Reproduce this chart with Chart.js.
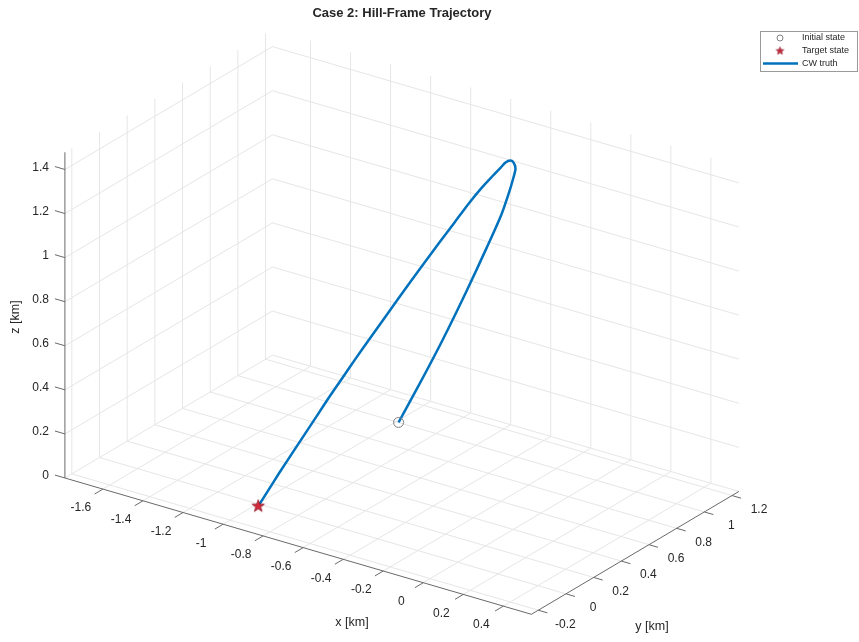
<!DOCTYPE html>
<html>
<head>
<meta charset="utf-8">
<title>Case 2: Hill-Frame Trajectory</title>
<script src="https://cdn.jsdelivr.net/npm/chart.js@4/dist/chart.umd.min.js"></script>
<style>
  html, body { margin: 0; padding: 0; background: #fff; }
  canvas { display: block; }
</style>
</head>
<body>
<canvas id="traj" width="859" height="642"></canvas>
<script>
// axis limits and ticks, km
const xLim = [-1.79, 0.54];
const yLim = [-0.25, 1.25];
const zLim = [0, 1.478];
const xTicks = [-1.6, -1.4, -1.2, -1, -0.8, -0.6, -0.4, -0.2, 0, 0.2, 0.4];
const yTicks = [-0.2, 0, 0.2, 0.4, 0.6, 0.8, 1, 1.2];
const zTicks = [0, 0.2, 0.4, 0.6, 0.8, 1, 1.2, 1.4];

// CW truth trajectory in the Hill frame, km
const trajX = [-0.988, -0.826, -0.686, -0.533, -0.414, -0.349, -0.317, -0.306, -0.299, -0.300, -0.300,
               -0.306, -0.305, -0.311, -0.341, -0.361, -0.387, -0.425, -0.460, -0.510, -0.549, -0.585,
               -0.634, -0.672, -0.719, -0.769, -0.814, -0.862, -0.907, -0.952, -0.977, -0.984];
const trajY = [1.001, 0.920, 0.884, 0.835, 0.810, 0.819, 0.831, 0.844, 0.849, 0.839, 0.815,
               0.787, 0.749, 0.703, 0.662, 0.604, 0.536, 0.484, 0.425, 0.394, 0.354, 0.306,
               0.276, 0.236, 0.208, 0.188, 0.160, 0.141, 0.113, 0.086, 0.042, -0.019];
const trajZ = [0.00, 0.25, 0.50, 0.78, 1.02, 1.18, 1.29, 1.35, 1.39, 1.42, 1.44,
               1.44, 1.43, 1.41, 1.36, 1.31, 1.24, 1.16, 1.08, 0.99, 0.91, 0.83,
               0.74, 0.66, 0.57, 0.48, 0.39, 0.30, 0.21, 0.12, 0.05, 0.00];

const initialState = [-0.988, 1.001, 0.00];
const targetState = [-0.984, -0.019, 0.00];

// fixed 3-D view: screen position of the (xmin, ymin, zmin) corner and one-unit steps along x, y, z
const view = { ox: 58, oy: 482, ex: [204, 60], ey: [141, -84], ez: [0, -226] };

function proj(x, y, z) {
  const u = x - xLim[0], v = y - yLim[0], w = z - zLim[0];
  return {
    x: view.ox + u * view.ex[0] + v * view.ey[0] + w * view.ez[0],
    y: view.oy + u * view.ex[1] + v * view.ey[1] + w * view.ez[1]
  };
}

const GAP = { x: null, y: null };
function addSeg(list, a, b) { list.push(proj(...a), proj(...b), GAP); }

// grid on the floor and the two back walls
const gridPts = [];
xTicks.forEach(v => {
  addSeg(gridPts, [v, yLim[0], zLim[0]], [v, yLim[1], zLim[0]]);
  addSeg(gridPts, [v, yLim[1], zLim[0]], [v, yLim[1], zLim[1]]);
});
yTicks.forEach(v => {
  addSeg(gridPts, [xLim[0], v, zLim[0]], [xLim[1], v, zLim[0]]);
  addSeg(gridPts, [xLim[0], v, zLim[0]], [xLim[0], v, zLim[1]]);
});
zTicks.forEach(v => {
  addSeg(gridPts, [xLim[0], yLim[0], v], [xLim[0], yLim[1], v]);
  addSeg(gridPts, [xLim[0], yLim[1], v], [xLim[1], yLim[1], v]);
});

// axis lines and tick marks
const axisPts = [];
addSeg(axisPts, [xLim[0], yLim[0], zLim[0]], [xLim[1], yLim[0], zLim[0]]);
addSeg(axisPts, [xLim[1], yLim[0], zLim[0]], [xLim[1], yLim[1], zLim[0]]);
addSeg(axisPts, [xLim[0], yLim[0], zLim[0]], [xLim[0], yLim[0], zLim[1]]);
xTicks.forEach(v => addSeg(axisPts, [v, yLim[0], zLim[0]], [v, yLim[0] - 0.06, zLim[0]]));
yTicks.forEach(v => addSeg(axisPts, [xLim[1], v, zLim[0]], [xLim[1] + 0.045, v, zLim[0]]));
zTicks.forEach(v => addSeg(axisPts, [xLim[0], yLim[0], v], [xLim[0] - 0.05, yLim[0], v]));

const trajPts = trajX.map((x, i) => proj(x, trajY[i], trajZ[i]));

function makeStar(r, fill, edge) {
  const s = Math.ceil(r * 2 + 3);
  const c = document.createElement('canvas');
  c.width = c.height = s;
  const g = c.getContext('2d');
  g.beginPath();
  for (let i = 0; i < 10; i++) {
    const a = -Math.PI / 2 + i * Math.PI / 5;
    const rr = i % 2 ? r * 0.4 : r;
    g.lineTo(s / 2 + rr * Math.cos(a), s / 2 + rr * Math.sin(a));
  }
  g.closePath();
  g.fillStyle = fill; g.fill();
  g.strokeStyle = edge; g.lineWidth = 0.8; g.stroke();
  return c;
}
const starBig = makeStar(6.5, '#d1283a', '#8e1b2a');
const starSmall = makeStar(4, '#d1283a', '#8e1b2a');

const FONT = '"Liberation Sans", Arial, Helvetica, sans-serif';
const TXT = '#262626';

const textPlugin = {
  id: 'axesText',
  afterDraw(chart) {
    const { ctx } = chart;
    const sx = chart.scales.x, sy = chart.scales.y;
    const pix = p => [sx.getPixelForValue(p.x), sy.getPixelForValue(p.y)];
    ctx.save();
    ctx.fillStyle = TXT;

    // title
    ctx.font = 'bold 13px ' + FONT;
    ctx.textAlign = 'center';
    ctx.textBaseline = 'middle';
    ctx.fillText('Case 2: Hill-Frame Trajectory', 402, 13);

    // tick labels
    ctx.font = '12px ' + FONT;
    xTicks.forEach(v => {
      const [a, b] = pix(proj(v, yLim[0], zLim[0]));
      ctx.fillText(String(v), a - 22, b + 19);
    });
    yTicks.forEach(v => {
      const [a, b] = pix(proj(xLim[1], v, zLim[0]));
      ctx.fillText(String(v), a + 27, b + 14);
    });
    ctx.textAlign = 'right';
    zTicks.forEach(v => {
      const [a, b] = pix(proj(xLim[0], yLim[0], v));
      ctx.fillText(String(v), a - 16, b - 2);
    });

    // axis titles
    ctx.font = '12.5px ' + FONT;
    ctx.textAlign = 'center';
    ctx.fillText('x [km]', 352, 623);
    ctx.fillText('y [km]', 652, 627);
    ctx.save();
    ctx.translate(16, 317);
    ctx.rotate(-Math.PI / 2);
    ctx.fillText('z [km]', 0, 0);
    ctx.restore();

    // legend
    const lg = { x: 760, y: 31, w: 97, h: 40 };
    ctx.fillStyle = '#fff';
    ctx.fillRect(lg.x, lg.y, lg.w, lg.h);
    ctx.strokeStyle = '#9a9a9a';
    ctx.lineWidth = 1;
    ctx.strokeRect(lg.x + 0.5, lg.y + 0.5, lg.w, lg.h);
    const rows = [38, 51, 63.5];
    ctx.beginPath();
    ctx.arc(780, rows[0], 3, 0, Math.PI * 2);
    ctx.strokeStyle = '#808080';
    ctx.stroke();
    ctx.drawImage(starSmall, 780 - starSmall.width / 2, rows[1] - starSmall.height / 2);
    ctx.beginPath();
    ctx.moveTo(763, rows[2]);
    ctx.lineTo(798, rows[2]);
    ctx.strokeStyle = '#0072BD';
    ctx.lineWidth = 2.5;
    ctx.stroke();
    ctx.fillStyle = TXT;
    ctx.font = '9px ' + FONT;
    ctx.textAlign = 'left';
    ctx.fillText('Initial state', 802, rows[0]);
    ctx.fillText('Target state', 802, rows[1]);
    ctx.fillText('CW truth', 802, rows[2]);
    ctx.restore();
  }
};

const bgPlugin = {
  id: 'whiteBg',
  beforeDraw(chart) {
    const { ctx } = chart;
    ctx.save();
    ctx.fillStyle = '#fff';
    ctx.fillRect(0, 0, chart.width, chart.height);
    ctx.restore();
  }
};

new Chart(document.getElementById('traj'), {
  type: 'scatter',
  data: {
    datasets: [
      { label: 'Initial state', data: [proj(...initialState)], order: 0,
        pointStyle: 'circle', pointRadius: 5, borderColor: '#808080',
        backgroundColor: 'rgba(0,0,0,0)', borderWidth: 1 },
      { label: 'Target state', data: [proj(...targetState)], order: 0,
        pointStyle: starBig, pointRadius: 7 },
      { label: 'CW truth', data: trajPts, order: 1, showLine: true, tension: 0.25,
        borderColor: '#0072BD', borderWidth: 2.5, pointRadius: 0 },
      { label: 'axes', data: axisPts, order: 2, showLine: true, spanGaps: false,
        borderColor: '#6a6a6a', borderWidth: 1, pointRadius: 0 },
      { label: 'grid', data: gridPts, order: 3, showLine: true, spanGaps: false,
        borderColor: '#e6e6e6', borderWidth: 1, pointRadius: 0 }
    ]
  },
  options: {
    responsive: false,
    animation: false,
    devicePixelRatio: 1,
    layout: { padding: 0 },
    plugins: { legend: { display: false }, tooltip: { enabled: false }, title: { display: false } },
    scales: {
      x: { type: 'linear', min: 0, max: 859, display: false },
      y: { type: 'linear', min: 0, max: 642, reverse: true, display: false }
    }
  },
  plugins: [bgPlugin, textPlugin]
});
</script>
</body>
</html>
